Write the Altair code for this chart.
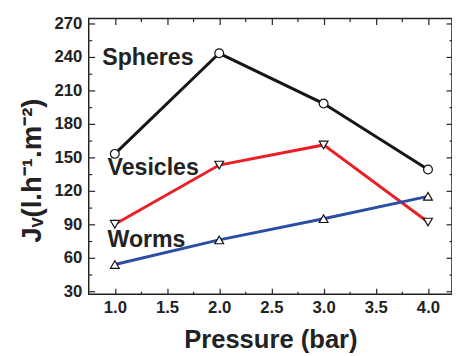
import altair as alt
import pandas as pd

# ---- data ----
pressure = [1.0, 2.0, 3.0, 4.0]
spheres = [153, 243, 198, 139]
vesicles = [90, 143, 161, 92]
worms = [54, 76, 95, 115]
series_names = ["Spheres", "Vesicles", "Worms"]
series_colors = ["#161616", "#ea1f27", "#2b4ea5"]

# label anchors (in data units)
label_x = [0.88, 0.93, 0.93]
label_y = [239, 140, 76]

y_major = [30, 60, 90, 120, 150, 180, 210, 240, 270]
y_minor = [45, 75, 105, 135, 165, 195, 225, 255]
x_major = [1.0, 1.5, 2.0, 2.5, 3.0, 3.5, 4.0]
x_minor = [1.25, 1.75, 2.25, 2.75, 3.25, 3.75]

W, H = 369, 280
FONT = "Liberation Sans"
INK = "#222222"

rows = []
for name, vals in zip(series_names, [spheres, vesicles, worms]):
    for p, v in zip(pressure, vals):
        rows.append({"series": name, "pressure": p, "flux": v})
df = pd.DataFrame(rows)
labels_df = pd.DataFrame({"series": series_names, "lx": label_x, "ly": label_y})

xscale = alt.Scale(domain=[0.75, 4.23], nice=False, zero=False)
yscale = alt.Scale(domain=[27.4, 274.1], nice=False, zero=False)
color_scale = alt.Scale(domain=series_names, range=series_colors)


def tick_axis(orient, values, size, offset):
    return alt.Axis(orient=orient, offset=offset, values=values, tickSize=size,
                    ticks=True, labels=False, domain=False, grid=False,
                    title=None, tickColor=INK, tickWidth=1.2)


lines = alt.Chart(df).mark_line(strokeWidth=3).encode(
    x=alt.X("pressure:Q", scale=xscale,
            axis=alt.Axis(orient="bottom", values=x_major, format=".1f",
                          ticks=False, tickSize=0, domain=False, grid=False,
                          labelPadding=6, labelFontSize=17, labelFontWeight="bold",
                          labelFont=FONT, labelColor=INK,
                          title="Pressure (bar)", titleFontSize=26,
                          titleFontWeight="bold", titleFont=FONT,
                          titlePadding=11, titleColor=INK)),
    y=alt.Y("flux:Q", scale=yscale,
            axis=alt.Axis(orient="left", values=y_major,
                          ticks=False, tickSize=0, domain=False, grid=False,
                          labelPadding=7, labelFontSize=17, labelFontWeight="bold",
                          labelFont=FONT, labelColor=INK,
                          title="Jᵥ(l.h⁻¹.m⁻²)", titleFontSize=28,
                          titleFontWeight="bold", titleFont=FONT,
                          titlePadding=8, titleColor=INK, titleY=154)),
    color=alt.Color("series:N", scale=color_scale, legend=None),
    detail="series:N",
)


def markers(name, shape, xaxis, yaxis):
    return alt.Chart(df).transform_filter(alt.datum.series == name).mark_point(
        shape=shape, filled=True, fill="white", stroke="#111111",
        strokeWidth=1.2, size=80, opacity=1,
    ).encode(
        x=alt.X("pressure:Q", scale=xscale, axis=xaxis),
        y=alt.Y("flux:Q", scale=yscale, axis=yaxis),
    )


circles = markers(series_names[0], "circle",
                  tick_axis("top", x_major, 6, -H), tick_axis("right", y_major, 6, -W))
down_tri = markers(series_names[1], "triangle-down",
                   tick_axis("top", x_minor, 3, -H), tick_axis("right", y_minor, 3, -W))
up_tri = markers(series_names[2], "triangle-up",
                 tick_axis("bottom", x_major, 6, -H), tick_axis("left", y_major, 6, -W))

texts = alt.Chart(labels_df).mark_text(
    align="left", baseline="middle", font=FONT, fontSize=23.5,
    fontWeight="bold", color=INK,
).encode(
    x=alt.X("lx:Q", scale=xscale, axis=tick_axis("bottom", x_minor, 3, -H)),
    y=alt.Y("ly:Q", scale=yscale, axis=tick_axis("left", y_minor, 3, -W)),
    text="series:N",
)

chart = alt.layer(lines, circles, down_tri, up_tri, texts).resolve_axis(
    x="independent", y="independent"
).properties(
    width=W, height=H,
    padding={"left": 82, "top": 8, "right": 0, "bottom": 58},
    autosize=alt.AutoSizeParams(type="none"),
).configure_view(
    stroke=INK, strokeWidth=1.5,
)

chart.save("out.html", embed_options={"renderer": "svg", "actions": False})
